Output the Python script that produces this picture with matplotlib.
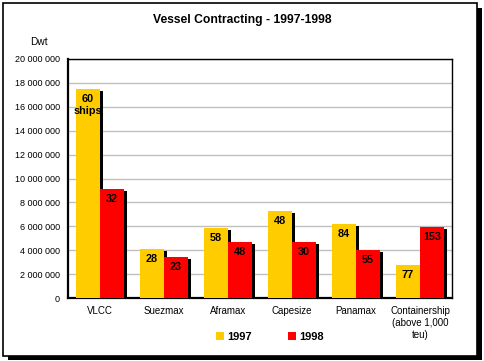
import matplotlib
matplotlib.use('Agg')
import matplotlib.pyplot as plt
import numpy as np
from matplotlib.patches import Rectangle
from matplotlib.ticker import FuncFormatter

plt.rcParams['font.family'] = ['Liberation Sans', 'DejaVu Sans']

# ----- data -----
categories = ["VLCC", "Suezmax", "Aframax", "Capesize", "Panamax",
              "Containership\n(above 1,000\nteu)"]
dwt_1997 = [17_500_000, 4_100_000, 5_850_000, 7_300_000, 6_200_000, 2_750_000]
dwt_1998 = [9_100_000, 3_400_000, 4_700_000, 4_700_000, 4_000_000, 5_950_000]
ships_1997 = ["60\nships", "28", "58", "48", "84", "77"]
ships_1998 = ["32", "23", "48", "30", "55", "153"]

YELLOW = '#FFCC00'
RED = '#FF0000'

fig = plt.figure(figsize=(4.84, 3.61), dpi=100)
fig.patch.set_facecolor('white')

# outer frame with drop shadow (pixel coords -> figure fraction)
W, H = 484, 361
def px(x0, y0, x1, y1, **kw):
    fig.patches.append(Rectangle((x0 / W, 1 - y1 / H), (x1 - x0) / W, (y1 - y0) / H,
                                 transform=fig.transFigure, **kw))
px(3, 3, 477, 356, facecolor='none', edgecolor='black', linewidth=1.2)
px(477, 8, 482, 360, facecolor='black', edgecolor='none')
px(8, 356, 482, 360, facecolor='black', edgecolor='none')

ax = fig.add_axes([68 / W, 1 - 298 / H, (452 - 68) / W, (298 - 59) / H])
ax.set_facecolor('white')

x = np.arange(len(categories))
width = 0.375
# shadow offsets (about 2-3 px)
dx = 0.04
dy = 170_000

ax.bar(x - width / 2 + dx, np.array(dwt_1997) - dy, width, color='black', zorder=2)
ax.bar(x + width / 2 + dx, np.array(dwt_1998) - dy, width, color='black', zorder=2)
b97 = ax.bar(x - width / 2, dwt_1997, width, color=YELLOW, zorder=3, label='1997')
b98 = ax.bar(x + width / 2, dwt_1998, width, color=RED, zorder=3, label='1998')

for bars, labels in ((b97, ships_1997), (b98, ships_1998)):
    for bar, lab in zip(bars, labels):
        ax.annotate(lab, (bar.get_x() + bar.get_width() / 2, bar.get_height()),
                    xytext=(0, -3.5), textcoords='offset points',
                    ha='center', va='top', fontsize=7.8, fontweight='bold',
                    linespacing=1.3, zorder=4)

ax.set_xlim(-0.5, len(categories) - 0.5)
ax.set_ylim(0, 20_000_000)
ax.set_yticks(np.arange(0, 20_000_001, 2_000_000))
ax.yaxis.set_major_formatter(FuncFormatter(lambda v, p: f'{int(v):,}'.replace(',', ' ')))
ax.set_xticks(x)
ax.set_xticklabels(categories, fontsize=7, linespacing=1.2)
ax.tick_params(axis='y', length=0, pad=6, labelsize=6.5)
ax.tick_params(axis='x', length=0, pad=6)
ax.grid(axis='y', color='#C0C0C0', linewidth=1, zorder=0)
ax.set_axisbelow(True)
for side in ('left', 'bottom'):
    ax.spines[side].set_linewidth(1.6)
for side in ('top', 'right'):
    ax.spines[side].set_linewidth(1.0)

fig.text(242 / W, 1 - 20 / H, 'Vessel Contracting - 1997-1998', ha='center', va='center',
         fontsize=8.7, fontweight='bold')
fig.text(39 / W, 1 - 42 / H, 'Dwt', ha='center', va='center', fontsize=7.3)

fig.legend(handles=[b97, b98], labels=['1997', '1998'], loc='center',
           bbox_to_anchor=(270 / W, 1 - 337 / H), ncol=2, frameon=False,
           prop={'weight': 'bold', 'size': 8}, handlelength=0.7, handleheight=0.7,
           handletextpad=0.3, columnspacing=3.3)

fig.savefig('out.png', dpi=100)
